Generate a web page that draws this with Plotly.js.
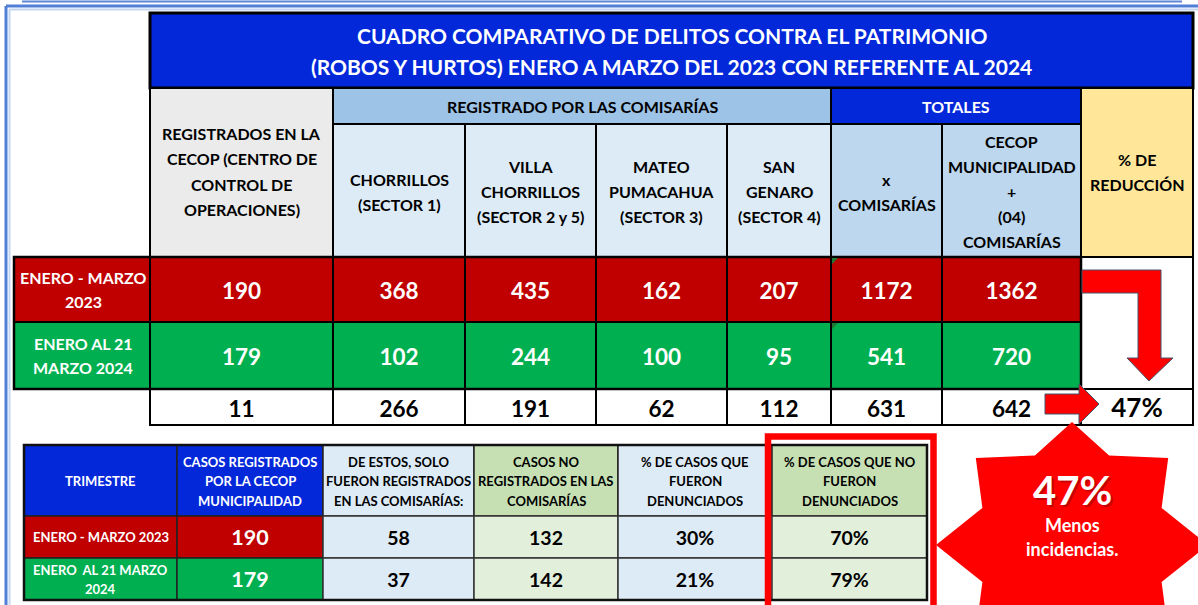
<!DOCTYPE html>
<html><head><meta charset="utf-8">
<script src="https://cdn.plot.ly/plotly-3.0.1.min.js"></script>
<style>html,body{margin:0;padding:0;background:#fff;}#chart{width:1198px;height:605px;}</style>
</head><body><div id="chart"></div>
<script>
// ---------------- DATA ----------------
const titleLines = ["CUADRO COMPARATIVO DE DELITOS CONTRA EL PATRIMONIO", "(ROBOS Y HURTOS) ENERO A MARZO DEL 2023 CON REFERENTE AL 2024"];
const cecopHeader = ["REGISTRADOS EN LA", "CECOP (CENTRO DE", "CONTROL DE", "OPERACIONES)"];
const comisariasGroup = "REGISTRADO POR LAS COMISARÍAS";
const comisariaNames = [["CHORRILLOS", "(SECTOR 1)"], ["VILLA", "CHORRILLOS", "(SECTOR 2 y 5)"], ["MATEO", "PUMACAHUA", "(SECTOR 3)"], ["SAN", "GENARO", "(SECTOR 4)"]];
const totalesGroup = "TOTALES";
const totalesNames = [["x", "COMISARÍAS"], ["CECOP", "MUNICIPALIDAD", "+", "(04)", "COMISARÍAS"]];
const reduccionHeader = ["% DE", "REDUCCIÓN"];
const periodLabels = [["ENERO - MARZO", "2023"], ["ENERO AL 21", "MARZO 2024"]];
const cecop = [190, 179];
const chorrillos = [368, 102];
const villaChorrillos = [435, 244];
const mateoPumacahua = [162, 100];
const sanGenaro = [207, 95];
const totalComisarias = [1172, 541];
const totalCecopComisarias = [1362, 720];
const diferencias = [11, 266, 191, 62, 112, 631, 642];
const reduccion = "47%";

const bottomHeaders = [["TRIMESTRE"], ["CASOS REGISTRADOS", "POR LA CECOP", "MUNICIPALIDAD"], ["DE ESTOS, SOLO", "FUERON REGISTRADOS", "EN LAS COMISARÍAS:"], ["CASOS NO", "REGISTRADOS EN LAS", "COMISARÍAS"], ["% DE CASOS QUE", "FUERON", "DENUNCIADOS"], ["% DE CASOS QUE NO", "FUERON", "DENUNCIADOS"]];
const trimestres = [["ENERO - MARZO 2023"], ["ENERO  AL 21 MARZO", "2024"]];
const casosCecop = [190, 179];
const soloComisarias = [58, 37];
const noRegistrados = [132, 142];
const pctDenunciados = ["30%", "21%"];
const pctNoDenunciados = ["70%", "79%"];
const starLines = ["47%", "Menos", "incidencias."];

// ---------------- LAYOUT / STYLE ----------------
const FONT = "Lato, 'Open Sans', sans-serif";
const RED = "#C00000", GREEN = "#00B050", BLUE = "#0228DA";
const shapes = [], ann = [], traces = [];
function rect(x0, y0, x1, y1, fill, lc, lw, layer) {
  shapes.push({type: 'rect', xref: 'x', yref: 'y', x0, y0, x1, y1, fillcolor: fill || 'rgba(0,0,0,0)',
    line: {color: lc || '#000', width: lw == null ? 2 : lw}, layer: layer || 'below'});
}
function line(x0, y0, x1, y1, c, w, layer) {
  shapes.push({type: 'line', xref: 'x', yref: 'y', x0, y0, x1, y1, line: {color: c, width: w}, layer: layer || 'below'});
}
function path(p, fill, lc, lw) {
  shapes.push({type: 'path', xref: 'x', yref: 'y', path: p, fillcolor: fill, line: {color: lc, width: lw}, layer: 'above'});
}
function txt(x, y, s, size, color) {
  ann.push({xref: 'x', yref: 'y', x, y, text: '<b>' + s + '</b>', showarrow: false, xanchor: 'center', yanchor: 'middle',
    font: {family: FONT, size, color}});
}
function lines(x, yc, arr, size, color, lh) {
  const n = arr.length;
  arr.forEach((s, i) => txt(x, yc + (i - (n - 1) / 2) * lh, s, size, color));
}

// outer frame
line(22, 1.5, 1182, 1.5, '#5B86D8', 2);
line(6, 6, 1198, 6, '#4F7FD6', 3);
line(6, 6, 6, 605, '#4F7FD6', 3);
line(9.5, 9, 9.5, 605, '#C4D6F3', 2);
line(9, 9.5, 1198, 9.5, '#C4D6F3', 2);

// ---------------- TOP TABLE ----------------
const cx = [150, 333, 465, 596, 727, 831, 942, 1081, 1193];
const ry = [13, 88, 124, 257, 322, 389, 425];
const mid = (a, b) => (a + b) / 2;

// title
rect(cx[0], ry[0], cx[8], ry[1], BLUE, '#000', 3);
lines(mid(cx[0], cx[8]), mid(ry[0], ry[1]) + 0.5, titleLines, 21, '#fff', 31);
// cecop header
rect(cx[0], ry[1], cx[1], ry[3], '#EBEBEB');
lines(mid(cx[0], cx[1]), 171.5, cecopHeader, 16, '#000', 25.5);
// comisarias
rect(cx[1], ry[1], cx[5], ry[2], '#9DC3E6');
txt(mid(cx[1], cx[5]), mid(ry[1], ry[2]), comisariasGroup, 16, '#000');
comisariaNames.forEach((nm, i) => {
  rect(cx[1 + i], ry[2], cx[2 + i], ry[3], '#DDEBF7');
  lines(mid(cx[1 + i], cx[2 + i]), nm.length === 2 ? 191.5 : 191, nm, 16, '#000', 25);
});
// totales
rect(cx[5], ry[1], cx[7], ry[2], BLUE);
txt(mid(cx[5], cx[7]), mid(ry[1], ry[2]), totalesGroup, 16, '#fff');
totalesNames.forEach((nm, i) => {
  rect(cx[5 + i], ry[2], cx[6 + i], ry[3], '#BDD7EE');
  lines(mid(cx[5 + i], cx[6 + i]), nm.length === 2 ? 192 : 191, nm, 16, '#000', 25);
});
// reduccion
rect(cx[7], ry[1], cx[8], ry[3], '#FFE699');
lines(mid(cx[7], cx[8]), 171.5, reduccionHeader, 16, '#000', 25);

// data rows
const rowColors = [RED, GREEN];
const series = [cecop, chorrillos, villaChorrillos, mateoPumacahua, sanGenaro, totalComisarias, totalCecopComisarias];
for (let r = 0; r < 2; r++) {
  rect(14, ry[3 + r], cx[0], ry[4 + r], rowColors[r]);
  lines(mid(14, cx[0]) + 1, mid(ry[3 + r], ry[4 + r]), periodLabels[r], 16, '#fff', 24.5);
  for (let c = 0; c < 7; c++) rect(cx[c], ry[3 + r], cx[c + 1], ry[4 + r], rowColors[r]);
}
rect(cx[7], ry[3], cx[8], ry[5], '#fff');
for (let c = 0; c < 8; c++) rect(cx[c], ry[5], cx[c + 1], ry[6], '#fff');
rect(14, ry[3], cx[7], ry[5], null, '#000', 2.5);

const colCenters = [];
for (let c = 0; c < 7; c++) colCenters.push(mid(cx[c], cx[c + 1]));
for (let r = 0; r < 2; r++) {
  traces.push({type: 'scatter', mode: 'text', x: colCenters, y: colCenters.map(() => mid(ry[3 + r], ry[4 + r]) + 3.5),
    text: series.map(s => '<b>' + s[r] + '</b>'), textposition: 'middle center',
    textfont: {family: FONT, size: 22.5, color: '#fff'}, hoverinfo: 'skip', showlegend: false});
}
traces.push({type: 'scatter', mode: 'text', x: colCenters, y: colCenters.map(() => mid(ry[5], ry[6]) + 4),
  text: diferencias.map(v => '<b>' + v + '</b>'), textposition: 'middle center',
  textfont: {family: FONT, size: 22.5, color: '#000'}, hoverinfo: 'skip', showlegend: false});
traces.push({type: 'scatter', mode: 'text', x: [mid(cx[7], cx[8])], y: [mid(ry[5], ry[6]) + 3],
  text: ['<b>' + reduccion + '</b>'], textposition: 'middle center',
  textfont: {family: FONT, size: 26, color: '#000'}, hoverinfo: 'skip', showlegend: false});

// small green excel markers
path('M 832 258 L 838 258 L 832 264 Z', '#1E7B34', '#1E7B34', 0);
path('M 832 323 L 838 323 L 832 329 Z', '#1E7B34', '#1E7B34', 0);

// bent arrow
path('M 1082 270 L 1161 270 L 1161 358 L 1173 358 L 1149 381 L 1127 358 L 1138 358 L 1138 293 L 1082 293 Z', '#FF0000', '#44546A', 1);
// right arrow
path('M 1045 394 L 1079 394 L 1079 384 L 1099 404 L 1079 424 L 1079 414 L 1045 414 Z', '#FF0000', '#44546A', 1);

// ---------------- BOTTOM TABLE ----------------
const bx = [24, 177, 323, 474, 618, 772, 927];
const by = [445, 516, 558, 600];
const headFill = [BLUE, BLUE, '#DDEBF7', '#C6E0B4', '#DDEBF7', '#C6E0B4'];
const headText = ['#fff', '#fff', '#000', '#000', '#000', '#000'];
const bodyFill = [null, null, '#DDEBF7', '#E2EFDA', '#DDEBF7', '#E2EFDA'];
bottomHeaders.forEach((h, i) => {
  rect(bx[i], by[0], bx[i + 1], by[1], headFill[i], '#222', 1.5);
  lines(mid(bx[i], bx[i + 1]), mid(by[0], by[1]) + 0.5, h, 13, headText[i], 19.5);
});
const bottomSeries = [casosCecop, soloComisarias, noRegistrados, pctDenunciados, pctNoDenunciados];
const bCenters = [];
for (let c = 1; c < 6; c++) bCenters.push(mid(bx[c], bx[c + 1]));
for (let r = 0; r < 2; r++) {
  rect(bx[0], by[1 + r], bx[1], by[2 + r], rowColors[r], '#222', 1.5);
  rect(bx[1], by[1 + r], bx[2], by[2 + r], rowColors[r], '#222', 1.5);
  for (let c = 2; c < 6; c++) rect(bx[c], by[1 + r], bx[c + 1], by[2 + r], bodyFill[c], '#333', 1.5);
  lines(mid(bx[0], bx[1]), mid(by[1 + r], by[2 + r]), trimestres[r], 13, '#fff', 19);
  traces.push({type: 'scatter', mode: 'text', x: [bCenters[0]], y: [mid(by[1 + r], by[2 + r]) + 3],
    text: ['<b>' + bottomSeries[0][r] + '</b>'], textposition: 'middle center',
    textfont: {family: FONT, size: 21.5, color: '#fff'}, hoverinfo: 'skip', showlegend: false});
  traces.push({type: 'scatter', mode: 'text', x: bCenters.slice(1), y: bCenters.slice(1).map(() => mid(by[1 + r], by[2 + r]) + 3),
    text: bottomSeries.slice(1).map(s => '<b>' + s[r] + '</b>'), textposition: 'middle center',
    textfont: {family: FONT, size: 19.5, color: '#000'}, hoverinfo: 'skip', showlegend: false});
}
rect(bx[0], by[0], bx[6], by[3], null, '#111', 2.5);
// red highlight box
shapes.push({type: 'rect', xref: 'x', yref: 'y', x0: 768, y0: 436.5, x1: 933.5, y1: 620, fillcolor: 'rgba(0,0,0,0)',
  line: {color: '#FF0000', width: 6.5}, layer: 'above'});

// ---------------- STAR ----------------
(function () {
  const cxs = 1072, cys = 545, rox = 136, roy = 123, ri = 97;
  let p = '';
  for (let k = 0; k < 16; k++) {
    const a = -Math.PI / 2 + k * Math.PI / 8;
    const outer = k % 2 === 0;
    const x = cxs + Math.cos(a) * (outer ? rox : ri);
    const y = cys + Math.sin(a) * (outer ? roy : ri);
    p += (k === 0 ? 'M ' : ' L ') + x.toFixed(1) + ' ' + y.toFixed(1);
  }
  path(p + ' Z', '#FF0000', '#FF0000', 0);
})();
ann.push({xref: 'x', yref: 'y', x: 1074, y: 492, text: '<b>' + starLines[0] + '</b>', showarrow: false,
  font: {family: FONT, size: 40, color: 'rgba(90,0,0,0.35)'}, xanchor: 'center', yanchor: 'middle'});
txt(1072, 490, starLines[0], 40, '#fff');
txt(1072, 525, starLines[1], 18, '#fff');
txt(1072, 549, starLines[2], 18, '#fff');

Plotly.newPlot('chart', traces, {
  width: 1198, height: 605, margin: {l: 0, r: 0, t: 0, b: 0},
  paper_bgcolor: '#fff', plot_bgcolor: '#fff', showlegend: false, hovermode: false,
  xaxis: {range: [0, 1198], visible: false, fixedrange: true},
  yaxis: {range: [605, 0], visible: false, fixedrange: true},
  shapes, annotations: ann
}, {staticPlot: true, displayModeBar: false});
</script></body></html>
